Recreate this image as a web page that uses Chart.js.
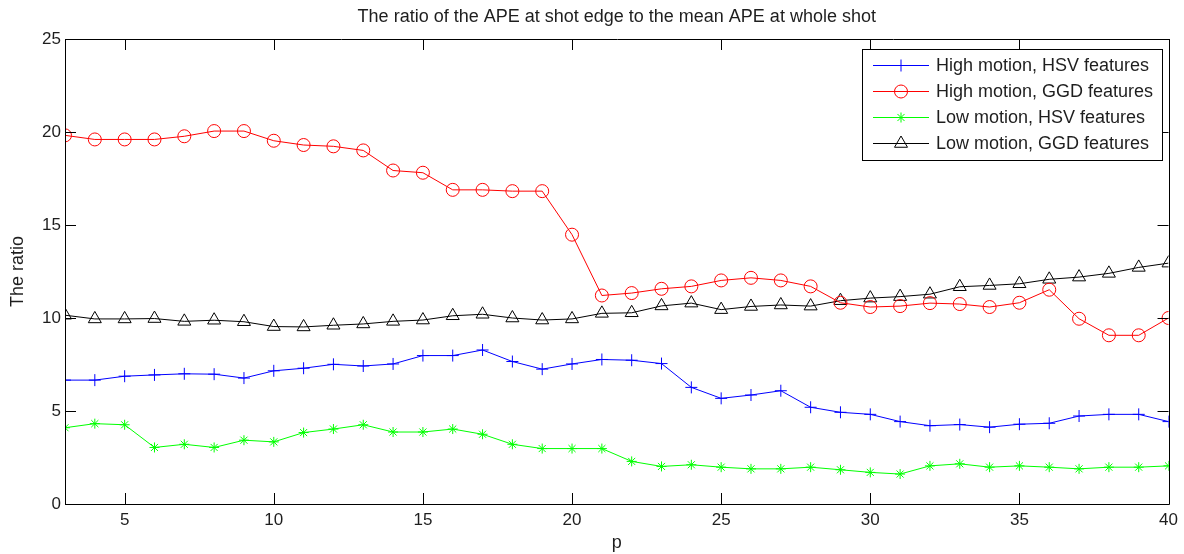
<!DOCTYPE html>
<html>
<head>
<meta charset="utf-8">
<title>APE ratio</title>
<script src="https://cdn.jsdelivr.net/npm/chart.js@4.4.1/dist/chart.umd.min.js"></script>
<style>
  html, body { margin: 0; padding: 0; background: #ffffff; }
  #wrap { width: 1184px; height: 554px; position: relative; }
</style>
</head>
<body>
<div id="wrap"><canvas id="chart" width="1184" height="554"></canvas></div>
<script>
// Window size p
const pValues = [3, 4, 5, 6, 7, 8, 9, 10, 11, 12, 13, 14, 15, 16, 17, 18, 19, 20, 21,
                 22, 23, 24, 25, 26, 27, 28, 29, 30, 31, 32, 33, 34, 35, 36, 37, 38, 39, 40];

// Ratio of the APE at shot edge to mean APE over the whole shot
const highMotionHsv = [6.66, 6.66, 6.87, 6.94, 7.00, 6.98, 6.77, 7.16, 7.30, 7.51, 7.42, 7.53, 7.98, 7.98, 8.28, 7.66, 7.25, 7.53, 7.77,
                       7.73, 7.55, 6.27, 5.68, 5.86, 6.09, 5.20, 4.93, 4.82, 4.43, 4.21, 4.27, 4.13, 4.29, 4.34, 4.73, 4.82, 4.82, 4.43];
const highMotionGgd = [19.82, 19.60, 19.60, 19.60, 19.77, 20.05, 20.05, 19.53, 19.30, 19.23, 19.01, 17.93, 17.81, 16.89, 16.89, 16.82, 16.82, 14.48,
                       11.21, 11.34, 11.57, 11.70, 12.02, 12.16, 12.02, 11.70, 10.82, 10.59, 10.64, 10.80, 10.75, 10.59, 10.82, 11.52, 9.96, 9.07, 9.07, 10.00];
const lowMotionHsv  = [4.10, 4.32, 4.26, 3.04, 3.21, 3.04, 3.43, 3.34, 3.84, 4.03, 4.26, 3.87, 3.87, 4.03, 3.75, 3.21, 2.98, 2.98, 2.98,
                       2.29, 2.02, 2.11, 1.98, 1.89, 1.89, 1.98, 1.84, 1.70, 1.61, 2.05, 2.16, 1.98, 2.05, 1.98, 1.89, 1.98, 1.98, 2.05];
const lowMotionGgd  = [10.15, 9.95, 9.95, 9.97, 9.82, 9.88, 9.80, 9.54, 9.52, 9.61, 9.68, 9.82, 9.89, 10.12, 10.20, 10.00, 9.89, 9.95, 10.25,
                       10.28, 10.65, 10.80, 10.45, 10.62, 10.70, 10.64, 10.93, 11.07, 11.15, 11.28, 11.68, 11.75, 11.84, 12.08, 12.20, 12.40, 12.72, 12.95];

const seriesNames = ['High motion, HSV features', 'High motion, GGD features',
                     'Low motion, HSV features', 'Low motion, GGD features'];

const xTicks = [5, 10, 15, 20, 25, 30, 35, 40];
const yTicks = [0, 5, 10, 15, 20, 25];

const titleText = 'The ratio of the APE at shot edge to the mean APE at whole shot';
const FONT = '"Liberation Sans", Arial, Helvetica, sans-serif';
const INK = '#1e1e1e';

function points(values) {
  return values.map((v, i) => ({ x: pValues[i], y: v }));
}

function series(label, values, color, style, radius) {
  return {
    label: label,
    data: points(values),
    borderColor: color,
    backgroundColor: color,
    borderWidth: 1,
    pointStyle: style,
    pointRadius: radius,
    pointHoverRadius: radius,
    pointBorderColor: color,
    pointBackgroundColor: 'rgba(0,0,0,0)',
    pointBorderWidth: 1,
    tension: 0,
    fill: false
  };
}

// Boxed axes with inward tick marks, plus the heading
const boxAxes = {
  id: 'boxAxes',
  afterDraw(chart) {
    const ctx = chart.ctx;
    const a = chart.chartArea;
    const xs = chart.scales.x, ys = chart.scales.y;
    const tick = 11;
    ctx.save();
    ctx.strokeStyle = '#000000';
    ctx.lineWidth = 1;
    ctx.beginPath();
    ctx.rect(Math.round(a.left) + 0.5, Math.round(a.top) + 0.5,
             Math.round(a.right - a.left), Math.round(a.bottom - a.top));
    ctx.stroke();
    ctx.beginPath();
    xTicks.forEach(v => {
      const px = Math.round(xs.getPixelForValue(v)) + 0.5;
      ctx.moveTo(px, a.bottom); ctx.lineTo(px, a.bottom - tick);
      ctx.moveTo(px, a.top); ctx.lineTo(px, a.top + tick);
    });
    yTicks.forEach(v => {
      const py = Math.round(ys.getPixelForValue(v)) + 0.5;
      ctx.moveTo(a.left, py); ctx.lineTo(a.left + tick, py);
      ctx.moveTo(a.right, py); ctx.lineTo(a.right - tick, py);
    });
    ctx.stroke();

    ctx.fillStyle = INK;
    ctx.font = '18px ' + FONT;
    ctx.textAlign = 'center';
    ctx.textBaseline = 'middle';
    ctx.fillText(titleText, (a.left + a.right) / 2, 17);
    ctx.restore();
  }
};

// Legend box in the upper right of the plot, line + marker samples
const boxLegend = {
  id: 'boxLegend',
  afterDraw(chart) {
    const ctx = chart.ctx;
    const box = { left: 862, top: 49, right: 1162, bottom: 160 };
    const rowY = [65, 91, 117, 143];
    ctx.save();
    ctx.fillStyle = '#ffffff';
    ctx.fillRect(box.left, box.top, box.right - box.left, box.bottom - box.top);
    ctx.strokeStyle = '#000000';
    ctx.lineWidth = 1;
    ctx.strokeRect(box.left + 0.5, box.top + 0.5, box.right - box.left, box.bottom - box.top);
    chart.data.datasets.forEach((ds, i) => {
      const y = rowY[i] + 0.5;
      ctx.strokeStyle = ds.borderColor;
      ctx.lineWidth = 1;
      ctx.beginPath();
      ctx.moveTo(873, y); ctx.lineTo(929, y);
      ctx.stroke();
      ctx.fillStyle = 'rgba(0,0,0,0)';
      Chart.helpers.drawPoint(ctx, {
        pointStyle: ds.pointStyle, radius: ds.pointRadius, rotation: 0, borderWidth: 1
      }, 901, y);
      ctx.fillStyle = INK;
      ctx.font = '18px ' + FONT;
      ctx.textAlign = 'left';
      ctx.textBaseline = 'middle';
      ctx.fillText(ds.label, 936, rowY[i] + 1);
    });
    ctx.restore();
  }
};

new Chart(document.getElementById('chart'), {
  type: 'line',
  data: {
    datasets: [
      series(seriesNames[0], highMotionHsv, '#0000ff', 'cross', 6),
      series(seriesNames[1], highMotionGgd, '#ff0000', 'circle', 6.5),
      series(seriesNames[2], lowMotionHsv, '#00ff00', 'star', 5),
      series(seriesNames[3], lowMotionGgd, '#000000', 'triangle', 7.5)
    ]
  },
  options: {
    responsive: false,
    animation: false,
    devicePixelRatio: 1,
    layout: { padding: { top: 39, right: 15, left: 0, bottom: 0 } },
    plugins: {
      legend: { display: false },
      title: { display: false },
      tooltip: { enabled: false }
    },
    scales: {
      x: {
        type: 'linear',
        min: 3,
        max: 40,
        afterBuildTicks(scale) { scale.ticks = xTicks.map(v => ({ value: v })); },
        afterFit(scale) { scale.height = 50; },
        grid: { display: false, drawTicks: false },
        border: { display: true, color: '#000000', width: 1 },
        ticks: { color: INK, font: { family: FONT, size: 17 }, padding: 6, maxRotation: 0, autoSkip: false },
        title: { display: true, text: 'p', color: INK, font: { family: FONT, size: 18 }, padding: { top: 0, bottom: 0 } }
      },
      y: {
        type: 'linear',
        min: 0,
        max: 25,
        afterBuildTicks(scale) { scale.ticks = yTicks.map(v => ({ value: v })); },
        afterFit(scale) { scale.width = 65; },
        grid: { display: false, drawTicks: false },
        border: { display: true, color: '#000000', width: 1 },
        ticks: { color: INK, font: { family: FONT, size: 17 }, padding: 4, autoSkip: false },
        title: { display: true, text: 'The ratio', color: INK, font: { family: FONT, size: 18 }, padding: { top: 7, bottom: 0 } }
      }
    }
  },
  plugins: [boxAxes, boxLegend]
});
</script>
</body>
</html>
